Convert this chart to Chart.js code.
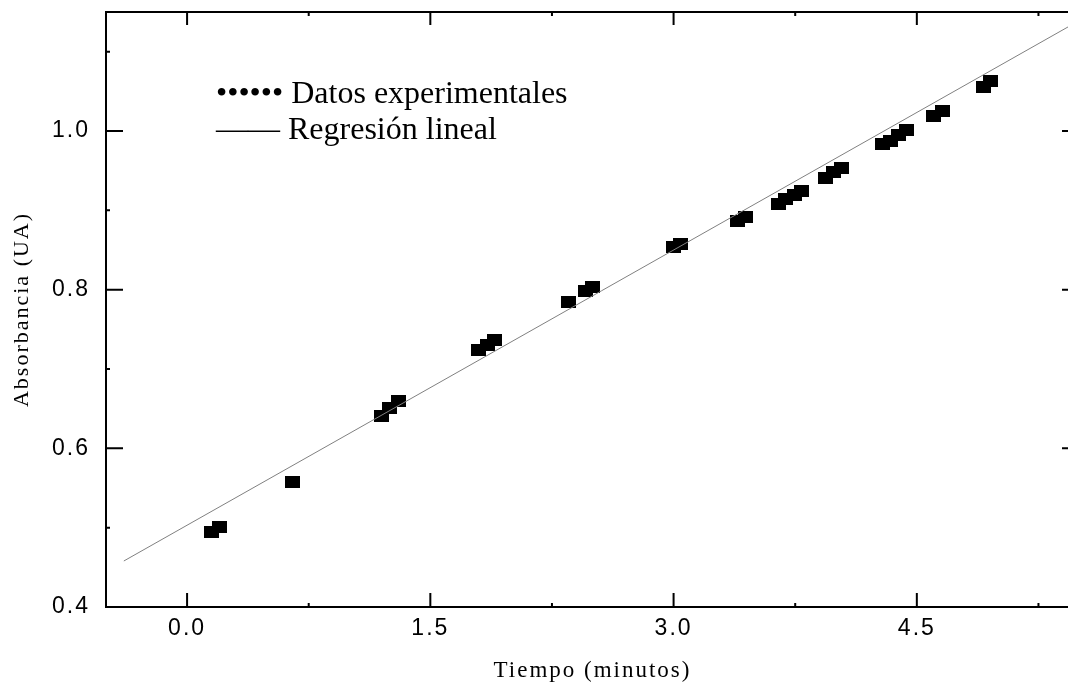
<!DOCTYPE html>
<html>
<head>
<meta charset="utf-8">
<script src="https://cdn.jsdelivr.net/npm/chart.js@4.4.1/dist/chart.umd.min.js"></script>
<style>
    html, body { margin: 0; padding: 0; background: #fff; overflow: hidden; }
    #wrap { width: 1090px; height: 682px; }
</style>
</head>
<body>
<div id="wrap"><canvas id="chart" width="1090" height="682"></canvas></div>
<script>
// datos
const tiempo = [0.151, 0.201, 0.651, 1.20, 1.25, 1.306, 1.80, 1.855, 1.898, 2.355, 2.454, 2.503,
    2.997, 3.04, 3.392, 3.441, 3.645, 3.69, 3.744, 3.787, 3.935, 3.985, 4.034,
    4.287, 4.336, 4.386, 4.435, 4.605, 4.657, 4.91, 4.954];
const absorbancia = [0.495, 0.501, 0.557, 0.641, 0.651, 0.660, 0.724, 0.730, 0.736, 0.785, 0.798, 0.803,
    0.854, 0.858, 0.886, 0.891, 0.908, 0.914, 0.919, 0.924, 0.941, 0.948, 0.953,
    0.983, 0.988, 0.995, 1.001, 1.019, 1.025, 1.056, 1.063];

// recta de regresion (extremos)
const regresionX = [-0.39, 5.5];
const regresionY = [0.458, 1.139];

const xTicks = [0, 1.5, 3, 4.5];
const xMinor = [0.75, 2.25, 3.75, 5.25];
const yTicks = [0.4, 0.6, 0.8, 1.0];
const yMinor = [0.5, 0.7, 0.9, 1.1];

const legendLabels = ['•••••• Datos experimentales', '—— Regresión lineal'];

// marcador cuadrado negro
let square = document.createElement('canvas');
square.width = 15;
square.height = 12;
let sctx = square.getContext('2d');
sctx.fillStyle = '#000';
sctx.fillRect(0, 0, 15, 12);

const framePlugin = {
    id: 'frame',
    beforeDraw(chart) {
        chart.ctx.letterSpacing = '2px';
    },
    beforeDatasetsDraw(chart) {
        chart.ctx.letterSpacing = '0px';
    },
    afterDraw(chart) {
        const ctx = chart.ctx;
        const a = chart.chartArea;
        const x = chart.scales.x;
        const y = chart.scales.y;
        ctx.save();
        ctx.strokeStyle = '#000';
        ctx.lineWidth = 2;
        ctx.strokeRect(a.left, a.top, a.right - a.left, a.bottom - a.top);

        ctx.beginPath();
        for (let v of xTicks) {
            let px = x.getPixelForValue(v);
            ctx.moveTo(px, a.bottom); ctx.lineTo(px, a.bottom - 14);
            ctx.moveTo(px, a.top); ctx.lineTo(px, a.top + 13);
        }
        for (let v of xMinor) {
            let px = x.getPixelForValue(v);
            ctx.moveTo(px, a.bottom); ctx.lineTo(px, a.bottom - 4);
            ctx.moveTo(px, a.top); ctx.lineTo(px, a.top + 4);
        }
        for (let v of yTicks) {
            let py = y.getPixelForValue(v);
            ctx.moveTo(a.left, py); ctx.lineTo(a.left + 17, py);
            ctx.moveTo(a.right, py); ctx.lineTo(a.right - 17, py);
        }
        for (let v of yMinor) {
            let py = y.getPixelForValue(v);
            ctx.moveTo(a.left, py); ctx.lineTo(a.left + 4, py);
            ctx.moveTo(a.right, py); ctx.lineTo(a.right - 4, py);
        }
        ctx.stroke();

        // leyenda
        ctx.fillStyle = '#000';
        ctx.font = '32px "Liberation Serif", "Times New Roman", serif';
        ctx.textBaseline = 'alphabetic';
        ctx.fillText(legendLabels[0], 216, 103);
        ctx.fillText(legendLabels[1], 216, 139);
        ctx.restore();
    }
};

let canvas = document.getElementById('chart');

let chart = new Chart(canvas, {
    type: 'scatter',
    data: {
        datasets: [{
            label: 'Regresión lineal',
            data: regresionX.map((v, i) => ({ x: v, y: regresionY[i] })),
            showLine: true,
            borderColor: '#808080',
            borderWidth: 1,
            pointRadius: 0,
            fill: false
        }, {
            label: 'Datos experimentales',
            data: tiempo.map((v, i) => ({ x: v, y: absorbancia[i] })),
            pointStyle: square,
            backgroundColor: '#000',
            borderColor: '#000'
        }]
    },
    options: {
        responsive: false,
        animation: false,
        devicePixelRatio: 1,
        layout: {
            padding: { top: 12, right: 11, left: 0, bottom: 0 }
        },
        plugins: {
            legend: { display: false },
            tooltip: { enabled: false }
        },
        scales: {
            x: {
                type: 'linear',
                min: -0.5,
                max: 5.5,
                grid: { display: false, drawTicks: false },
                border: { display: false },
                afterBuildTicks: s => { s.ticks = xTicks.map(v => ({ value: v })); },
                afterFit: s => {
                    s.height = 75;
                    s.paddingLeft = 0;
                    s.paddingRight = 0;
                },
                ticks: {
                    color: '#000',
                    padding: 10,
                    maxRotation: 0,
                    autoSkip: false,
                    font: { family: '"Liberation Sans", Arial, sans-serif', size: 23, lineHeight: 1 },
                    callback: v => v.toFixed(1)
                },
                title: {
                    display: true,
                    text: 'Tiempo (minutos)',
                    color: '#000',
                    padding: { top: 0, bottom: 0 },
                    font: { family: '"Liberation Serif", "Times New Roman", serif', size: 23, lineHeight: 1 }
                }
            },
            y: {
                min: 0.4,
                max: 1.15,
                grid: { display: false, drawTicks: false },
                border: { display: false },
                afterBuildTicks: s => { s.ticks = yTicks.map(v => ({ value: v })); },
                afterFit: s => {
                    s.width = 106;
                    s.paddingTop = 0;
                    s.paddingBottom = 0;
                },
                ticks: {
                    color: '#000',
                    padding: 16,
                    autoSkip: false,
                    font: { family: '"Liberation Sans", Arial, sans-serif', size: 23, lineHeight: 1 },
                    callback: v => v.toFixed(1)
                },
                title: {
                    display: true,
                    text: 'Absorbancia (UA)',
                    color: '#000',
                    padding: { top: 11, bottom: 0 },
                    font: { family: '"Liberation Serif", "Times New Roman", serif', size: 22, lineHeight: 1 }
                }
            }
        }
    },
    plugins: [framePlugin]
});
</script>
</body>
</html>
